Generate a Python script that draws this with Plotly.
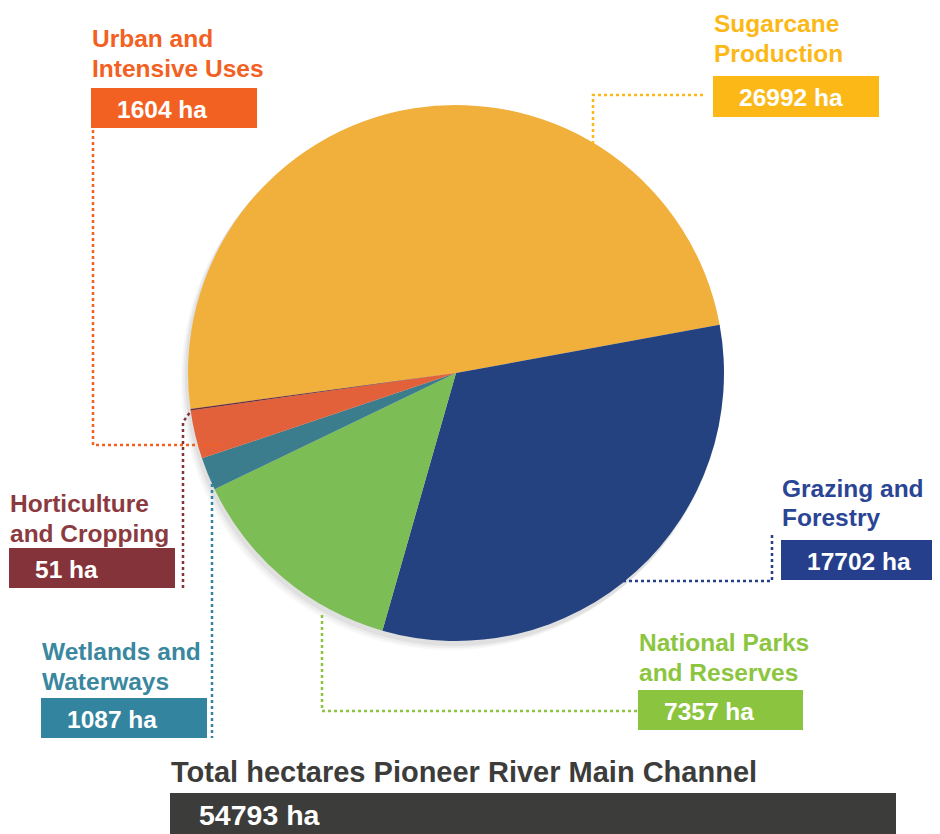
import plotly.graph_objects as go

# ---------------- data ----------------
categories = ["Sugarcane Production", "Grazing and Forestry", "National Parks and Reserves",
              "Wetlands and Waterways", "Urban and Intensive Uses", "Horticulture and Cropping"]
title_lines = [["Sugarcane", "Production"], ["Grazing and", "Forestry"], ["National Parks", "and Reserves"],
               ["Wetlands and", "Waterways"], ["Urban and", "Intensive Uses"], ["Horticulture", "and Cropping"]]
hectares = [26992, 17702, 7357, 1087, 1604, 51]
total_title = "Total hectares Pioneer River Main Channel"
unit = "ha"

# ---------------- styles ----------------
slice_colors = ["#F1AF3B", "#23427F", "#7DBD56", "#3B7D8C", "#E2603A", "#6B2D3A"]
box_colors = ["#FBB817", "#263F8C", "#8BC53F", "#33849E", "#F26122", "#85333A"]
text_colors = ["#FBB817", "#2B4595", "#8CC540", "#3A87A0", "#F26122", "#8B3A3F"]

W, H = 940, 834
OFF = 8  # page body margin
FONT = "Liberation Sans, Arial, sans-serif"


def px(x):
    return (x - OFF) / W


def py(y):
    return 1 - (y - OFF) / H


# label layout (screen pixels): box, title line centers, leader path
label_layout = [
    dict(box=(713, 76, 879, 117), lines=(22, 52), path=[(593, 150), (593, 95), (705, 95)]),
    dict(box=(781, 540, 955, 580), lines=(487, 516), path=[(623, 581), (772, 581), (772, 533)]),
    dict(box=(638, 690, 803, 730), lines=(641, 671), path=[(322, 615), (322, 711), (637, 711)]),
    dict(box=(41, 698, 207, 738), lines=(650, 680), path=[(212, 478), (212, 738)]),
    dict(box=(91, 88, 257, 128), lines=(37, 67), path=[(93, 130), (93, 445), (222, 445)]),
    dict(box=(9, 548, 175, 588), lines=(502, 532), path=[(183, 588), (183, 422), (191, 411)]),
]

cx, cy, r = 456, 373, 268

fig = go.Figure()
fig.add_trace(go.Pie(
    labels=categories, values=hectares, sort=False, direction="clockwise", rotation=262.3,
    marker=dict(colors=slice_colors, line=dict(width=0)),
    textinfo="none", hoverinfo="label+value", showlegend=False,
    domain=dict(x=[px(cx - r), px(cx + r)], y=[py(cy + r), py(cy - r)]),
))

shapes = []
# soft shadow behind the pie
for dx, dy, op in [(-2, 4, 0.05), (-4, 6, 0.04), (-6, 8, 0.03)]:
    shapes.append(dict(type="circle", xref="paper", yref="paper", layer="below",
                       x0=px(cx - r + dx - 1), x1=px(cx + r + dx + 1),
                       y0=py(cy + r + dy + 1), y1=py(cy - r + dy - 1),
                       fillcolor=f"rgba(0,0,0,{op})", line=dict(width=0)))

annotations = []
for i, lay in enumerate(label_layout):
    x0, y0, x1, y1 = lay["box"]
    shapes.append(dict(type="rect", xref="paper", yref="paper", x0=px(x0), x1=px(x1),
                       y0=py(y1), y1=py(y0), fillcolor=box_colors[i], line=dict(width=0)))
    pts = lay["path"]
    d = "M " + " L ".join(f"{px(a)},{py(b)}" for a, b in pts)
    shapes.append(dict(type="path", xref="paper", yref="paper", path=d,
                       line=dict(color=box_colors[i], width=2.5, dash="dot")))
    for ln, yc in zip(title_lines[i], lay["lines"]):
        annotations.append(dict(text=ln, x=px(x0 - 1), y=py(yc + 1), xref="paper", yref="paper",
                                xanchor="left", yanchor="middle", showarrow=False,
                                font=dict(family=FONT, size=24.5, color=text_colors[i], weight="bold")))
    annotations.append(dict(text=f"{hectares[i]} {unit}", x=px(x0 + 24), y=py((y0 + y1) / 2 + 1),
                            xref="paper", yref="paper", xanchor="left", yanchor="middle",
                            showarrow=False,
                            font=dict(family=FONT, size=24.5, color="white", weight="bold")))

# total
total = sum(hectares)
shapes.append(dict(type="rect", xref="paper", yref="paper", x0=px(170), x1=px(896),
                   y0=py(845), y1=py(793), fillcolor="#3C3C3B", line=dict(width=0)))
annotations.append(dict(text=total_title, x=px(169), y=py(772), xref="paper", yref="paper",
                        xanchor="left", yanchor="middle", showarrow=False,
                        font=dict(family=FONT, size=29, color="#3C3C3B", weight="bold")))
annotations.append(dict(text=f"{total} {unit}", x=px(197), y=py(815), xref="paper", yref="paper",
                        xanchor="left", yanchor="middle", showarrow=False,
                        font=dict(family=FONT, size=28.5, color="white", weight="bold")))

fig.update_layout(width=W, height=H, margin=dict(l=0, r=0, t=0, b=0),
                  paper_bgcolor="white", plot_bgcolor="white",
                  shapes=shapes, annotations=annotations)

fig.write_html("out.html")
